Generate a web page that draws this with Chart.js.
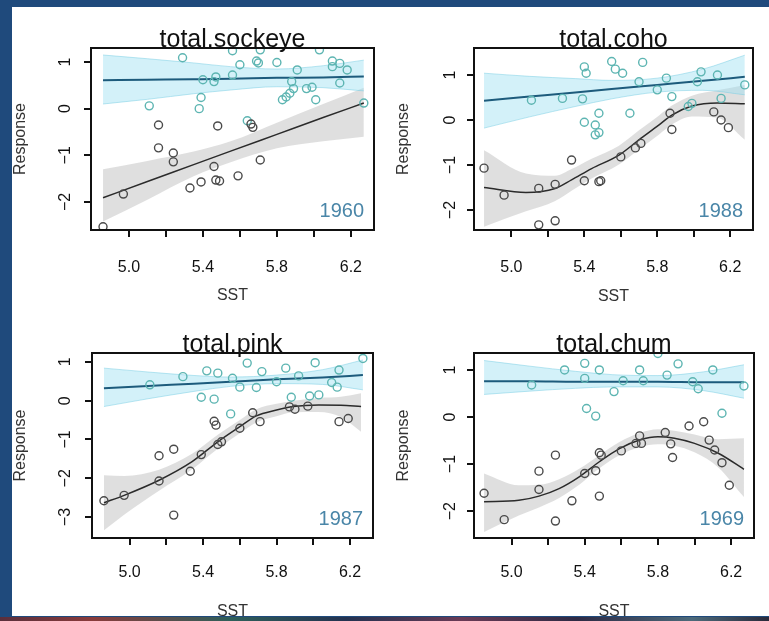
<!DOCTYPE html>
<html>
<head>
<meta charset="utf-8">
<title>Response vs SST</title>
<script src="https://cdn.jsdelivr.net/npm/chart.js@4.4.1/dist/chart.umd.min.js"></script>
<style>
  body { margin: 0; width: 769px; height: 621px; background: #1f4a7c; position: relative; overflow: hidden; }
  .sheet { position: absolute; left: 12px; top: 7px; width: 757px; height: 610px; background: #fff; }
  .strip { position: absolute; left: 0; top: 616px; width: 769px; height: 5px; z-index: 5;
           border-top: 1px solid #1f4a7c;
           background: linear-gradient(90deg, #5a2f3c 0%, #8a3b3b 12%, #2f5f5a 30%, #243250 45%, #6a3a55 60%, #2e2a44 75%, #4d6a7a 90%, #2a2a3a 100%); }
  canvas { position: absolute; }
</style>
</head>
<body>
<div class="sheet"></div>
<canvas id="sockeye" width="372" height="300" style="left:12px;top:7px"></canvas>
<canvas id="coho" width="384" height="300" style="left:385px;top:7px"></canvas>
<canvas id="pink" width="372" height="311" style="left:12px;top:310px"></canvas>
<canvas id="chum" width="384" height="311" style="left:385px;top:310px"></canvas>
<div class="strip"></div>

<script>
// shared x axis (SST)
const sstTicks = [5.0, 5.2, 5.4, 5.6, 5.8, 6.0, 6.2];
const sstLabels = [5.0, 5.4, 5.8, 6.2];
const sstMin = 4.795;
const sstMax = 6.325;

// ---- total.sockeye ----
const sockeyeYTicks = [-2, -1, 0, 1];
const sockeyeBlueX = [5.29, 5.56, 5.60, 5.69, 5.70, 5.71, 5.80, 6.03, 6.10, 6.10, 6.14, 6.18, 6.14, 5.91, 5.88, 5.89, 5.87, 5.85, 5.83, 5.96, 5.99, 6.01, 6.27, 5.56, 5.47, 5.46, 5.40, 5.39, 5.38, 5.11, 5.64];
const sockeyeBlueY = [1.09, 1.24, 0.94, 1.02, 0.98, 1.26, 0.99, 1.26, 1.02, 0.90, 0.97, 0.83, 0.55, 0.83, 0.58, 0.43, 0.33, 0.25, 0.19, 0.43, 0.46, 0.19, 0.12, 0.72, 0.68, 0.58, 0.62, 0.24, 0.00, 0.06, -0.26];
const sockeyeGreyX = [4.86, 4.97, 5.16, 5.16, 5.24, 5.24, 5.33, 5.39, 5.46, 5.47, 5.49, 5.59, 5.48, 5.67, 5.66, 5.71];
const sockeyeGreyY = [-2.53, -1.83, -0.35, -0.84, -0.95, -1.14, -1.70, -1.57, -1.24, -1.53, -1.55, -1.44, -0.37, -0.40, -0.33, -1.10];
const sockeyeBlueFitX = [4.86, 5.1, 5.35, 5.55, 5.8, 6.05, 6.27];
const sockeyeBlueFit = [0.61, 0.62, 0.63, 0.64, 0.66, 0.67, 0.69];
const sockeyeBlueUpper = [1.15, 1.07, 0.98, 0.90, 0.85, 0.92, 1.04];
const sockeyeBlueLower = [0.10, 0.20, 0.32, 0.40, 0.47, 0.45, 0.38];
const sockeyeGreyFitX = [4.86, 5.1, 5.35, 5.55, 5.8, 6.05, 6.27];
const sockeyeGreyFit = [-1.91, -1.56, -1.20, -0.91, -0.55, -0.19, 0.12];
const sockeyeGreyUpper = [-1.30, -1.12, -0.92, -0.70, -0.30, 0.10, 0.45];
const sockeyeGreyLower = [-2.42, -1.95, -1.45, -1.15, -0.85, -0.70, -0.60];

// ---- total.coho ----
const cohoYTicks = [-2, -1, 0, 1];
const cohoBlueX = [5.40, 5.41, 5.55, 5.57, 5.61, 5.72, 5.70, 5.80, 5.85, 5.88, 5.97, 5.99, 6.04, 6.02, 6.13, 6.15, 6.28, 5.11, 5.28, 5.39, 5.40, 5.46, 5.48, 5.65, 5.46, 5.48];
const cohoBlueY = [1.18, 1.04, 1.30, 1.13, 1.04, 1.28, 0.85, 0.67, 0.93, 0.52, 0.30, 0.37, 1.07, 0.85, 1.00, 0.48, 0.78, 0.44, 0.48, 0.47, -0.05, -0.11, 0.15, 0.15, -0.33, -0.28];
const cohoGreyX = [4.85, 4.96, 5.15, 5.24, 5.15, 5.24, 5.33, 5.40, 5.48, 5.49, 5.60, 5.68, 5.71, 5.87, 5.88, 6.11, 6.15, 6.19];
const cohoGreyY = [-1.07, -1.67, -1.52, -1.43, -2.33, -2.24, -0.89, -1.35, -1.37, -1.35, -0.82, -0.62, -0.52, 0.15, -0.21, 0.18, 0.00, -0.17];
const cohoBlueFitX = [4.85, 5.1, 5.35, 5.55, 5.8, 6.05, 6.28];
const cohoBlueFit = [0.43, 0.52, 0.61, 0.69, 0.78, 0.87, 0.96];
const cohoBlueUpper = [1.04, 0.97, 0.92, 0.88, 0.93, 1.13, 1.44];
const cohoBlueLower = [-0.18, 0.07, 0.30, 0.47, 0.62, 0.66, 0.56];
const cohoGreyFitX = [4.85, 5.08, 5.24, 5.33, 5.44, 5.59, 5.70, 5.81, 5.88, 5.99, 6.13, 6.28];
const cohoGreyFit = [-1.50, -1.61, -1.52, -1.33, -1.08, -0.78, -0.44, -0.11, 0.11, 0.31, 0.38, 0.36];
const cohoGreyUpper = [-0.67, -1.19, -1.24, -1.09, -0.86, -0.57, -0.23, 0.10, 0.32, 0.54, 0.66, 0.78];
const cohoGreyLower = [-2.37, -2.03, -1.80, -1.57, -1.30, -0.99, -0.65, -0.32, -0.10, 0.08, 0.05, -0.44];

// ---- total.pink ----
const pinkYTicks = [-3, -2, -1, 0, 1];
const pinkBlueX = [5.29, 5.42, 5.48, 5.64, 5.72, 5.85, 6.01, 6.14, 6.27, 5.56, 5.60, 5.69, 5.80, 5.92, 6.10, 6.13, 5.11, 5.39, 5.46, 5.55, 5.88, 5.98, 6.03];
const pinkBlueY = [0.62, 0.77, 0.71, 0.97, 0.75, 0.84, 0.98, 0.79, 1.09, 0.58, 0.35, 0.34, 0.49, 0.64, 0.47, 0.35, 0.41, 0.09, 0.04, -0.34, 0.09, 0.12, 0.15];
const pinkGreyX = [4.86, 4.97, 5.16, 5.16, 5.24, 5.24, 5.33, 5.39, 5.46, 5.47, 5.48, 5.50, 5.60, 5.67, 5.71, 5.87, 5.90, 5.97, 6.14, 6.19];
const pinkGreyY = [-2.58, -2.44, -1.42, -2.07, -1.25, -2.95, -1.82, -1.39, -0.53, -0.63, -1.13, -1.06, -0.71, -0.31, -0.54, -0.16, -0.22, -0.14, -0.54, -0.46];
const pinkBlueFitX = [4.86, 5.1, 5.35, 5.55, 5.8, 6.05, 6.27];
const pinkBlueFit = [0.32, 0.38, 0.44, 0.49, 0.55, 0.60, 0.66];
const pinkBlueUpper = [0.84, 0.74, 0.65, 0.61, 0.66, 0.80, 1.05];
const pinkBlueLower = [-0.15, 0.05, 0.24, 0.37, 0.44, 0.42, 0.28];
const pinkGreyFitX = [4.86, 4.97, 5.16, 5.34, 5.48, 5.60, 5.69, 5.80, 5.89, 6.03, 6.15, 6.26];
const pinkGreyFit = [-2.63, -2.44, -2.05, -1.57, -1.06, -0.67, -0.39, -0.24, -0.15, -0.11, -0.12, -0.15];
const pinkGreyUpper = [-1.92, -1.94, -1.78, -1.37, -0.88, -0.50, -0.22, -0.08, 0.00, 0.07, 0.10, 0.19];
const pinkGreyLower = [-3.34, -2.94, -2.32, -1.77, -1.24, -0.84, -0.56, -0.40, -0.30, -0.29, -0.42, -0.80];

// ---- total.chum ----
const chumYTicks = [-2, -1, 0, 1];
const chumBlueX = [5.29, 5.40, 5.48, 5.70, 5.80, 5.91, 6.10, 5.40, 5.11, 5.56, 5.61, 5.72, 5.85, 5.99, 6.02, 6.27, 5.41, 5.46, 6.15];
const chumBlueY = [1.00, 1.14, 1.00, 1.00, 1.35, 1.13, 1.00, 0.82, 0.68, 0.54, 0.77, 0.77, 0.89, 0.75, 0.60, 0.66, 0.18, 0.02, 0.08];
const chumGreyX = [4.85, 4.96, 5.15, 5.15, 5.24, 5.24, 5.33, 5.40, 5.46, 5.48, 5.49, 5.48, 5.60, 5.68, 5.70, 5.71, 5.84, 5.87, 5.88, 5.97, 6.05, 6.08, 6.11, 6.15, 6.19];
const chumGreyY = [-1.62, -2.18, -1.15, -1.54, -0.81, -2.21, -1.78, -1.20, -1.14, -0.76, -0.81, -1.68, -0.72, -0.56, -0.40, -0.56, -0.33, -0.57, -0.86, -0.19, -0.10, -0.49, -0.70, -0.97, -1.45];
const chumBlueFitX = [4.85, 5.1, 5.35, 5.55, 5.8, 6.05, 6.27];
const chumBlueFit = [0.76, 0.76, 0.75, 0.75, 0.75, 0.74, 0.74];
const chumBlueUpper = [1.20, 1.08, 0.97, 0.90, 0.88, 0.96, 1.11];
const chumBlueLower = [0.48, 0.55, 0.61, 0.64, 0.64, 0.56, 0.40];
const chumGreyFitX = [4.85, 5.04, 5.15, 5.26, 5.37, 5.48, 5.59, 5.70, 5.80, 5.89, 6.00, 6.13, 6.27];
const chumGreyFit = [-1.80, -1.77, -1.68, -1.52, -1.27, -0.95, -0.67, -0.49, -0.42, -0.45, -0.56, -0.77, -1.11];
const chumGreyUpper = [-1.20, -1.45, -1.44, -1.32, -1.10, -0.81, -0.53, -0.34, -0.26, -0.29, -0.37, -0.47, -0.45];
const chumGreyLower = [-2.44, -2.09, -1.92, -1.72, -1.44, -1.09, -0.81, -0.64, -0.58, -0.61, -0.75, -1.07, -1.70];

const FONT = '"Liberation Sans", Arial, Helvetica, sans-serif';

document.addEventListener('DOMContentLoaded', function() {
    // panel settings: text, ranges and the sizes that place the plot box
    const panels = [
        { id: 'sockeye', title: 'total.sockeye', year: '1960', yMin: -2.6, yMax: 1.3, yTicks: sockeyeYTicks,
          blue: [sockeyeBlueX, sockeyeBlueY], grey: [sockeyeGreyX, sockeyeGreyY],
          blueFit: [sockeyeBlueFitX, sockeyeBlueFit, sockeyeBlueUpper, sockeyeBlueLower],
          greyFit: [sockeyeGreyFitX, sockeyeGreyFit, sockeyeGreyUpper, sockeyeGreyLower],
          pad: { left: 0, top: 41, right: 10, bottom: 0 }, yW: 79, xH: 77, yPad: 9, xPad: 21, respPad: 0, sstPad: 3 },
        { id: 'coho', title: 'total.coho', year: '1988', yMin: -2.444, yMax: 1.6, yTicks: cohoYTicks,
          blue: [cohoBlueX, cohoBlueY], grey: [cohoGreyX, cohoGreyY],
          blueFit: [cohoBlueFitX, cohoBlueFit, cohoBlueUpper, cohoBlueLower],
          greyFit: [cohoGreyFitX, cohoGreyFit, cohoGreyUpper, cohoGreyLower],
          pad: { left: 0, top: 41, right: 16, bottom: 0 }, yW: 89, xH: 77, yPad: 7, xPad: 21, respPad: 10, sstPad: 2 },
        { id: 'pink', title: 'total.pink', year: '1987', yMin: -3.54, yMax: 1.23, yTicks: pinkYTicks,
          blue: [pinkBlueX, pinkBlueY], grey: [pinkGreyX, pinkGreyY],
          blueFit: [pinkBlueFitX, pinkBlueFit, pinkBlueUpper, pinkBlueLower],
          greyFit: [pinkGreyFitX, pinkGreyFit, pinkGreyUpper, pinkGreyLower],
          pad: { left: 0, top: 43, right: 11, bottom: 0 }, yW: 80, xH: 83, yPad: 10, xPad: 18, respPad: 0, sstPad: 1 },
        { id: 'chum', title: 'total.chum', year: '1969', yMin: -2.57, yMax: 1.36, yTicks: chumYTicks,
          blue: [chumBlueX, chumBlueY], grey: [chumGreyX, chumGreyY],
          blueFit: [chumBlueFitX, chumBlueFit, chumBlueUpper, chumBlueLower],
          greyFit: [chumGreyFitX, chumGreyFit, chumGreyUpper, chumGreyLower],
          pad: { left: 0, top: 43, right: 15, bottom: 0 }, yW: 89, xH: 83, yPad: 7, xPad: 18, respPad: 10, sstPad: 1 }
    ];

    panels.forEach(initPanel);
});

function pts(xs, ys) {
    return xs.map((x, i) => ({ x: x, y: ys[i] }));
}

function minusLabel(v) {
    return v < 0 ? '\u2212' + Math.abs(v) : String(v);
}

// box, main title and year label, R style
const rFrame = {
    id: 'rFrame',
    afterDraw(chart, args, opts) {
        const { ctx, chartArea: a } = chart;
        ctx.save();
        ctx.strokeStyle = '#111';
        ctx.lineWidth = 2;
        ctx.strokeRect(a.left, a.top, a.right - a.left, a.bottom - a.top);

        ctx.fillStyle = '#111';
        ctx.font = '25px ' + FONT;
        ctx.textAlign = 'center';
        ctx.textBaseline = 'alphabetic';
        ctx.fillText(opts.title, (a.left + a.right) / 2, a.top - 1);

        ctx.fillStyle = '#4a86a8';
        ctx.font = '20px ' + FONT;
        ctx.textAlign = 'right';
        ctx.fillText(opts.year, a.right - 10, a.bottom - 13);
        ctx.restore();
    }
};

function initPanel(p) {
    const ctx = document.getElementById(p.id).getContext('2d');

    const cyanFill = 'rgba(150, 222, 240, 0.42)';
    const cyanEdge = 'rgba(120, 205, 228, 0.5)';
    const greyFill = 'rgba(185, 185, 185, 0.45)';

    const bandLine = { type: 'line', pointRadius: 0, borderWidth: 1, cubicInterpolationMode: 'monotone' };

    const datasets = [
        // grey confidence band + fit
        Object.assign({}, bandLine, { data: pts(p.greyFit[0], p.greyFit[3]), borderColor: 'rgba(0,0,0,0)', fill: false, order: 8 }),
        Object.assign({}, bandLine, { data: pts(p.greyFit[0], p.greyFit[2]), borderColor: 'rgba(0,0,0,0)', fill: '-1', backgroundColor: greyFill, order: 8 }),
        // cyan confidence band + fit
        Object.assign({}, bandLine, { data: pts(p.blueFit[0], p.blueFit[3]), borderColor: cyanEdge, fill: false, order: 6 }),
        Object.assign({}, bandLine, { data: pts(p.blueFit[0], p.blueFit[2]), borderColor: cyanEdge, fill: '-1', backgroundColor: cyanFill, order: 6 }),
        Object.assign({}, bandLine, { data: pts(p.greyFit[0], p.greyFit[1]), borderColor: '#2b2b2b', borderWidth: 1.5, fill: false, order: 3 }),
        Object.assign({}, bandLine, { data: pts(p.blueFit[0], p.blueFit[1]), borderColor: '#1d5b7c', borderWidth: 2, fill: false, order: 3 }),
        // observations
        { type: 'scatter', data: pts(p.grey[0], p.grey[1]), pointStyle: 'circle', pointRadius: 4,
          borderWidth: 1.4, borderColor: '#4a4a4a', backgroundColor: 'rgba(0,0,0,0)', order: 1 },
        { type: 'scatter', data: pts(p.blue[0], p.blue[1]), pointStyle: 'circle', pointRadius: 4,
          borderWidth: 1.4, borderColor: '#5db5b2', backgroundColor: 'rgba(0,0,0,0)', order: 1 }
    ];

    const tickGrid = { drawOnChartArea: false, drawTicks: true, tickLength: 7, lineWidth: 2, color: '#111' };

    new Chart(ctx, {
        type: 'scatter',
        data: { datasets: datasets },
        options: {
            responsive: false,
            devicePixelRatio: 1,
            animation: false,
            layout: { padding: p.pad },
            scales: {
                x: {
                    type: 'linear',
                    min: sstMin,
                    max: sstMax,
                    afterBuildTicks: s => { s.ticks = sstTicks.map(v => ({ value: v })); },
                    afterFit: s => { s.height = p.xH; },
                    grid: tickGrid,
                    border: { display: false },
                    ticks: {
                        autoSkip: false,
                        maxRotation: 0,
                        padding: p.xPad,
                        color: '#111',
                        font: { family: FONT, size: 16 },
                        callback: v => sstLabels.includes(v) ? v.toFixed(1) : ''
                    },
                    title: {
                        display: true,
                        text: 'SST',
                        color: '#333',
                        font: { family: FONT, size: 16, lineHeight: 1.1 },
                        padding: { top: 0, bottom: p.sstPad }
                    }
                },
                y: {
                    type: 'linear',
                    min: p.yMin,
                    max: p.yMax,
                    afterBuildTicks: s => { s.ticks = p.yTicks.map(v => ({ value: v })); },
                    afterFit: s => { s.width = p.yW; },
                    grid: tickGrid,
                    border: { display: false },
                    ticks: {
                        autoSkip: false,
                        minRotation: 90,
                        maxRotation: 90,
                        crossAlign: 'center',
                        padding: p.yPad,
                        color: '#111',
                        font: { family: FONT, size: 16 },
                        callback: v => minusLabel(v)
                    },
                    title: {
                        display: true,
                        text: 'Response',
                        color: '#333',
                        font: { family: FONT, size: 16, lineHeight: 1.1 },
                        padding: { top: p.respPad, bottom: 0 }
                    }
                }
            },
            plugins: {
                legend: { display: false },
                tooltip: { enabled: false },
                rFrame: { title: p.title, year: p.year }
            }
        },
        plugins: [rFrame]
    });
}
</script>
</body>
</html>
